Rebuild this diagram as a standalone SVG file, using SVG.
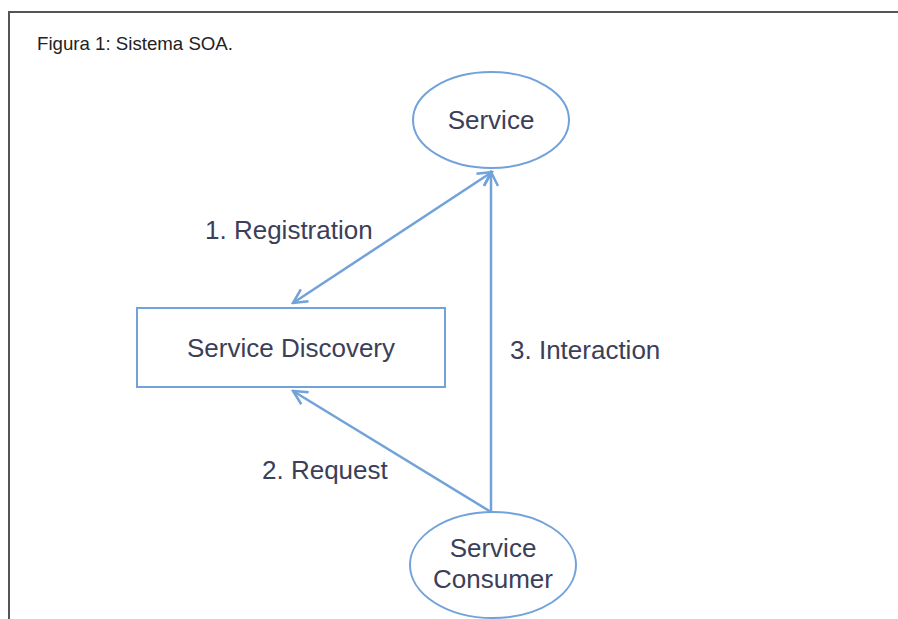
<svg xmlns="http://www.w3.org/2000/svg" width="898" height="619" viewBox="0 0 898 619">
<defs>
<style>
.frame{fill:none;stroke:#555;stroke-width:2}
.shape{fill:#fff;stroke:#72a2da;stroke-width:2}
.conn{fill:none;stroke:#72a2da;stroke-width:2.5}
.lbl{font-family:"Liberation Sans",Arial,sans-serif;font-size:26px;fill:#3b4058}
.title{font-family:"Liberation Sans",Arial,sans-serif;font-size:19px;fill:#222}
</style>
<marker id="arr" viewBox="0 0 20 20" refX="18" refY="10" markerWidth="20" markerHeight="20" markerUnits="userSpaceOnUse" orient="auto-start-reverse">
<path d="M4,3 L18,10 L4,17" fill="none" stroke="#72a2da" stroke-width="2.5"/>
</marker>
</defs>
<rect width="898" height="619" fill="#fff"/>
<path class="frame" d="M9,619 V12 H898"/>
<text class="title" x="37" y="50" textLength="196" lengthAdjust="spacingAndGlyphs">Figura 1: Sistema SOA.</text>
<g id="connectors">
<line class="conn" x1="293" y1="303" x2="492" y2="172" marker-start="url(#arr)" marker-end="url(#arr)"/>
<line class="conn" x1="491" y1="512" x2="491" y2="172" marker-end="url(#arr)"/>
<line class="conn" x1="491" y1="512" x2="293" y2="391" marker-end="url(#arr)"/>
</g>
<g id="service">
<ellipse class="shape" cx="491" cy="120" rx="78" ry="48"/>
<text class="lbl" x="491" y="129" text-anchor="middle">Service</text>
</g>
<g id="discovery">
<rect class="shape" x="137" y="308" width="308" height="79"/>
<text class="lbl" x="291" y="357" text-anchor="middle">Service Discovery</text>
</g>
<g id="consumer">
<ellipse class="shape" cx="493" cy="565" rx="83" ry="53"/>
<text class="lbl" x="493" y="557" text-anchor="middle">Service</text>
<text class="lbl" x="493" y="588" text-anchor="middle">Consumer</text>
</g>
<g id="labels">
<text class="lbl" x="205" y="239">1. Registration</text>
<text class="lbl" x="262" y="479">2. Request</text>
<text class="lbl" x="510" y="359">3. Interaction</text>
</g>
</svg>
